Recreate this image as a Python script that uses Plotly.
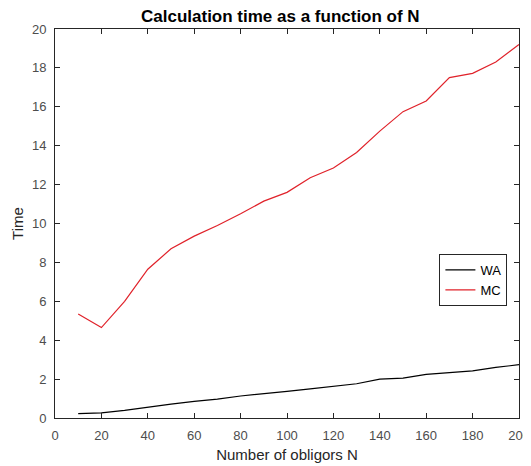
import plotly.graph_objects as go

N = [10, 20, 30, 40, 50, 60, 70, 80, 90, 100, 110, 120, 130, 140, 150, 160, 170, 180, 190, 200]
wa_time = [0.22, 0.26, 0.39, 0.56, 0.71, 0.85, 0.97, 1.13, 1.24, 1.37, 1.50, 1.64, 1.76, 2.00, 2.05, 2.24, 2.32, 2.42, 2.60, 2.74]
mc_time = [5.35, 4.65, 6.0, 7.65, 8.7, 9.35, 9.9, 10.5, 11.15, 11.6, 12.35, 12.85, 13.65, 14.75, 15.75, 16.3, 17.5, 17.72, 18.3, 19.2]

x_ticks = list(range(0, 201, 20))
y_ticks = list(range(0, 21, 2))

FONT = "Liberation Sans, Arial, sans-serif"

fig = go.Figure()
fig.add_trace(go.Scatter(x=N, y=wa_time, mode="lines", name="WA",
                         line=dict(color="#000000", width=1.2)))
fig.add_trace(go.Scatter(x=N, y=mc_time, mode="lines", name="MC",
                         line=dict(color="#e0222a", width=1.2)))

axis_common = dict(
    showgrid=False, zeroline=False, showline=True, linecolor="#262626", linewidth=1,
    mirror="ticks", ticks="inside", ticklen=5, tickcolor="#262626", tickwidth=1,
    automargin=False, ticklabelstandoff=5, ticklabeloverflow="allow",
    tickfont=dict(family=FONT, size=13, color="#4d4d4d"),
)

fig.update_layout(
    width=531, height=458,
    margin=dict(l=47, r=20, t=21, b=48),
    paper_bgcolor="white", plot_bgcolor="white",
    xaxis=dict(range=[0, 200], tickvals=x_ticks, **axis_common,
               title=dict(text="Number of obligors N", standoff=7,
                          font=dict(family=FONT, size=15, color="#262626"))),
    yaxis=dict(range=[0, 20], tickvals=y_ticks, **axis_common,
               title=dict(text="Time", standoff=4,
                          font=dict(family=FONT, size=15, color="#262626"))),
    legend=dict(x=0.975, y=0.4216, xanchor="right", yanchor="top",
                bgcolor="white", bordercolor="#262626", borderwidth=1,
                font=dict(family=FONT, size=13, color="#000000"),
                tracegroupgap=0, itemwidth=30),
    showlegend=True,
)
fig.add_annotation(text="<b>Calculation time as a function of N</b>", xref="paper", yref="paper",
                   x=0.487, y=1, xanchor="center", yanchor="middle", yshift=13, showarrow=False,
                   font=dict(family=FONT, size=17, color="#000000"))

fig.write_html("out.html")
